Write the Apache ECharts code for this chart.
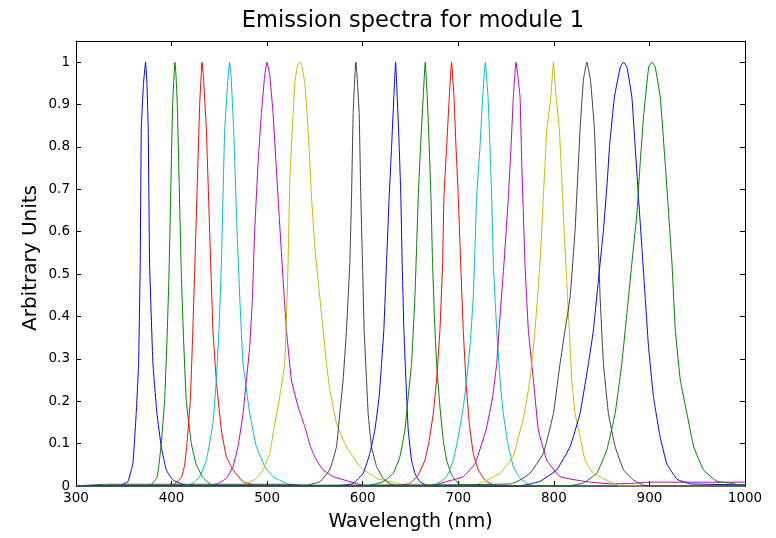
<!DOCTYPE html>
<html>
<head>
<meta charset="utf-8">
<script src="https://cdn.jsdelivr.net/npm/echarts@6/dist/echarts.min.js"></script>
<style>html,body{margin:0;padding:0;background:#fff;}#chart{width:776px;height:538px;}</style>
</head>
<body>
<div id="chart"></div>
<script>
// Peak wavelengths (nm), in plot order
const peaks = [372, 403, 432, 461, 500, 534, 593, 634, 665, 693, 728, 760, 800, 835, 873, 903];
const seriesColors = ['#0000FF','#008000','#FF0000','#00BFBF','#BF00BF','#BFBF00','#404040',
                      '#0000FF','#008000','#FF0000','#00BFBF','#BF00BF','#BFBF00','#404040',
                      '#0000FF','#008000'];
const xTicks = [300, 400, 500, 600, 700, 800, 900, 1000];
const yTicks = [0, 0.1, 0.2, 0.3, 0.4, 0.5, 0.6, 0.7, 0.8, 0.9, 1];

// [wavelength nm, arbitrary units]
const s372 = [[300,0],[345,0],[349.1,0.004],[354.3,0.010],[359.5,0.053],[363.0,0.171],[365.5,0.289],[367.2,0.525],[368.3,0.84],[370.6,0.95],[372.8,1],[374.2,0.95],[375.6,0.84],[377.0,0.525],[380.5,0.289],[384.7,0.171],[389.2,0.093],[394.5,0.038],[401.4,0.014],[411.9,0.004],[420,0],[1000,0]];
const s403 = [[300,0],[377,0],[384.7,0.02],[386.8,0.05],[389.2,0.1],[392.7,0.2],[395.3,0.35],[397.3,0.5],[401.1,0.9],[402.6,0.97],[403.5,1],[404.6,0.97],[406,0.9],[410.2,0.5],[412.5,0.35],[415.4,0.2],[420.7,0.1],[425.9,0.05],[432.9,0.02],[443.3,0],[1000,0]];
const s432 = [[300,0],[399.7,0],[410.2,0.02],[413.7,0.05],[416.1,0.1],[419.6,0.2],[422,0.35],[424.1,0.5],[429.4,0.9],[431,0.97],[431.8,1],[433.2,0.97],[436.4,0.84],[439.8,0.604],[443.3,0.368],[446.8,0.25],[452.1,0.132],[457.3,0.069],[464.3,0.038],[474.8,0.010],[483.5,0.004],[490,0],[1000,0]];
const s461 = [[300,0],[415,0],[422.4,0.006],[429.4,0.022],[436.4,0.061],[443.3,0.148],[446.8,0.25],[449.6,0.368],[452.1,0.525],[453.8,0.682],[455.6,0.84],[459.3,0.97],[460.8,1],[462.2,0.97],[465,0.84],[468.5,0.604],[471.3,0.446],[474.8,0.289],[481.8,0.171],[488.7,0.093],[497.5,0.046],[506.2,0.022],[520.2,0.006],[530,0],[1000,0]];
const s500 = [[300,0],[440,0],[448.6,0.006],[457.3,0.018],[464.3,0.046],[469.5,0.093],[474.8,0.171],[478.3,0.25],[481.8,0.329],[484.6,0.446],[487,0.604],[490.5,0.761],[494,0.879],[497.5,0.97],[499.9,1],[502.7,0.97],[506.2,0.879],[511.4,0.682],[516.7,0.486],[520.2,0.368],[525.4,0.25],[532.4,0.187],[539.4,0.14],[545.3,0.093],[551.6,0.061],[558.6,0.038],[569.1,0.022],[593.5,0.006],[605,0],[1000,0]];
const s534 = [[300,0],[470,0],[478.3,0.005],[488.7,0.018],[495.7,0.038],[502.7,0.077],[506.9,0.132],[513.2,0.211],[518.4,0.289],[520.9,0.446],[521.9,0.525],[523,0.643],[523.7,0.722],[525.4,0.8],[527.2,0.879],[528.9,0.95],[531.5,0.99],[534.1,1],[536.5,0.99],[539.4,0.95],[541.8,0.879],[543.9,0.8],[546.4,0.682],[549.9,0.564],[553.3,0.486],[558.6,0.368],[562.1,0.289],[565.6,0.226],[572.6,0.148],[583,0.093],[597,0.046],[614.5,0.018],[638.9,0.005],[650,0],[1000,0]];
const s593 = [[300,0],[330,0.004],[520,0.004],[541.1,0.002],[555.1,0.010],[565.6,0.038],[572.6,0.093],[576,0.171],[579.5,0.25],[583,0.368],[584.8,0.446],[586.5,0.525],[588.3,0.682],[590,0.879],[591.8,0.97],[592.8,1],[594,0.97],[596.3,0.879],[598,0.682],[599.8,0.525],[601.5,0.368],[604,0.25],[605.7,0.171],[609.2,0.093],[614.5,0.046],[621.4,0.018],[628.4,0.005],[640,0],[1000,0]];
const s634 = [[300,0],[570,0],[579.5,0.002],[590,0.006],[600.5,0.030],[607.5,0.077],[612.7,0.132],[617.2,0.211],[619.7,0.289],[622.1,0.368],[624.9,0.525],[627.7,0.682],[630.2,0.8],[632.6,0.918],[634.4,1],[636.1,0.918],[638.2,0.8],[639.9,0.682],[641.3,0.525],[643.1,0.368],[645.2,0.25],[647.6,0.132],[651.1,0.061],[654.6,0.030],[659.8,0.010],[666.8,0.002],[675,0],[1000,0]];
const s665 = [[300,0],[600,0],[607.5,0.002],[621.4,0.010],[631.9,0.030],[638.9,0.069],[644.1,0.132],[647.6,0.211],[651.1,0.289],[654.6,0.446],[656.4,0.564],[658.1,0.682],[660.5,0.8],[663.3,0.918],[665.4,1],[667.5,0.918],[669.6,0.8],[671.4,0.682],[673.1,0.525],[674.9,0.407],[677.3,0.289],[680.8,0.187],[684.3,0.108],[687.8,0.061],[693,0.026],[700,0.006],[705.2,0.002],[715,0],[1000,0]];
const s693 = [[300,0],[630,0],[638.9,0.002],[649.4,0.006],[658.1,0.026],[665.1,0.061],[669.6,0.108],[673.8,0.171],[677.3,0.25],[680.8,0.368],[683.6,0.525],[685,0.682],[687.8,0.8],[690.6,0.918],[693,1],[695.5,0.918],[697.6,0.8],[700,0.682],[702.5,0.525],[705.2,0.368],[708,0.25],[711.5,0.148],[715.7,0.077],[720.9,0.038],[727.9,0.014],[736.7,0.002],[745,0],[1000,0]];
const s728 = [[300,0],[665,0],[677.3,0.005],[687.8,0.022],[694.8,0.061],[700,0.116],[705.3,0.187],[708.7,0.25],[712.2,0.329],[715.7,0.446],[717.5,0.564],[719.2,0.682],[722.7,0.8],[725.5,0.918],[728.3,1],[731.1,0.918],[733.2,0.8],[734.9,0.682],[736.7,0.525],[740.2,0.368],[743.7,0.25],[747.1,0.171],[752.4,0.093],[757.6,0.046],[764.6,0.018],[775.1,0.002],[785,0],[1000,0]];
const s760 = [[300,0],[670,0],[680.8,0.006],[705.2,0.022],[717.5,0.053],[729,0.132],[736,0.211],[740.2,0.289],[742.6,0.368],[747.8,0.525],[752.4,0.682],[755.2,0.8],[757.6,0.918],[760.4,1],[764.6,0.918],[766.4,0.761],[769.8,0.525],[773.3,0.368],[778.6,0.25],[783.8,0.132],[792.6,0.061],[806.5,0.022],[834.5,0.010],[860,0.005],[880,0.006],[900,0.009],[1000,0.009]];
const s800 = [[300,0],[715,0],[726.2,0.010],[743.7,0.030],[757.6,0.069],[761,0.1],[768.1,0.16],[775,0.25],[780.3,0.368],[785.5,0.526],[787.3,0.604],[789,0.683],[790.8,0.761],[792.6,0.84],[796.8,0.918],[799.6,1],[802.3,0.918],[805.8,0.84],[808.3,0.722],[810.7,0.604],[813.4,0.486],[816.2,0.368],[818.7,0.25],[822.2,0.171],[827.4,0.116],[832.6,0.061],[841.4,0.030],[858.9,0.010],[870,0],[1000,0]];
const s835 = [[300,0],[700,0.003],[755,0.005],[764.6,0.014],[775,0.03],[789,0.077],[799.5,0.171],[806.5,0.289],[811.7,0.368],[817,0.446],[822.2,0.604],[827.4,0.84],[830.9,0.958],[834.5,1],[838.3,0.958],[842.5,0.84],[846,0.604],[848.4,0.446],[851.9,0.289],[857.1,0.171],[864.1,0.093],[872.9,0.038],[883.4,0.014],[893.8,0.002],[905,0],[1000,0]];
const s873 = [[300,0],[760,0],[771.6,0.003],[785.5,0.011],[803,0.038],[817,0.093],[827.4,0.171],[836.2,0.289],[841.4,0.368],[846.6,0.486],[851.9,0.604],[856,0.722],[858.2,0.8],[863.4,0.918],[869.6,0.989],[872.9,1],[876.4,0.989],[881.6,0.918],[885.1,0.8],[888.6,0.68],[892.1,0.563],[895.6,0.445],[899.1,0.327],[904.3,0.209],[911.3,0.115],[918.3,0.052],[928.8,0.016],[942.8,0.005],[1000,0.003]];
const s903 = [[300,0],[817,0.001],[830.9,0.007],[844.9,0.03],[855.4,0.085],[864.1,0.171],[871.1,0.289],[876.4,0.407],[881.6,0.525],[886.9,0.643],[890.3,0.761],[894.1,0.879],[899.3,0.989],[902.5,1],[906,0.989],[911.3,0.918],[916.5,0.761],[920.1,0.643],[923.6,0.525],[927.1,0.368],[932.3,0.25],[939.3,0.17],[946.3,0.093],[956.6,0.038],[970.6,0.011],[988,0.006],[995,0],[1000,0]];

const allSeries = [s372, s403, s432, s461, s500, s534, s593, s634, s665, s693, s728, s760, s800, s835, s873, s903];

const FONT = 'DejaVu Sans';
const chart = echarts.init(document.getElementById('chart'), null, {renderer: 'canvas'});
const yFmt = v => {
  const r = Math.round(v * 10) / 10;
  return Math.abs(v - r) < 1e-6 && yTicks.indexOf(r) >= 0 ? String(r) : '';
};
const xFmt = v => (xTicks.indexOf(v) >= 0 ? String(v) : '');
const tickStyle = {show: true, inside: true, length: 5, lineStyle: {color: '#000', width: 1}};
const axLine = {show: true, onZero: false, lineStyle: {color: '#000', width: 1}};
chart.setOption({
  animation: false,
  backgroundColor: '#fff',
  title: {
    text: 'Emission spectra for module 1',
    left: 408, top: 5, textAlign: 'center',
    textStyle: {fontFamily: FONT, fontSize: 22.5, fontWeight: 'normal', color: '#000'}
  },
  graphic: [{
    type: 'text', x: 31, y: 258, rotation: Math.PI / 2, z: 10,
    style: {text: 'Arbitrary Units', fill: '#000', font: '20px "DejaVu Sans"',
            textAlign: 'center', textVerticalAlign: 'middle'}
  }],
  grid: {left: 76, right: 31, top: 41, bottom: 52, containLabel: false},
  xAxis: [{
    type: 'value', min: 300, max: 1000, interval: 100, position: 'bottom',
    axisLine: axLine, axisTick: tickStyle, splitLine: {show: false},
    axisLabel: {color: '#000', fontFamily: FONT, fontSize: 13.5, margin: 5, formatter: xFmt},
    name: 'Wavelength (nm)', nameLocation: 'middle', nameGap: 27,
    nameTextStyle: {color: '#000', fontFamily: FONT, fontSize: 19}
  }, {
    type: 'value', min: 300, max: 1000, interval: 100, position: 'top',
    axisLine: axLine, axisTick: tickStyle, splitLine: {show: false}, axisLabel: {show: false}
  }],
  yAxis: [{
    type: 'value', min: 0, max: 1.05, interval: 0.1, position: 'left',
    axisLine: axLine, axisTick: tickStyle, splitLine: {show: false},
    axisLabel: {color: '#000', fontFamily: FONT, fontSize: 13.5, margin: 6, formatter: yFmt}
  }, {
    type: 'value', min: 0, max: 1.05, interval: 0.1, position: 'right',
    axisLine: axLine, axisTick: tickStyle, splitLine: {show: false}, axisLabel: {show: false}
  }],
  series: allSeries.map((d, i) => ({
    type: 'line', name: String(peaks[i]), data: d, xAxisIndex: 0, yAxisIndex: 0,
    showSymbol: false, symbol: 'none', smooth: 0.1,
    lineStyle: {color: seriesColors[i], width: 1},
    itemStyle: {color: seriesColors[i]}, z: 2 + i * 0.01
  }))
});
</script>
</body>
</html>
